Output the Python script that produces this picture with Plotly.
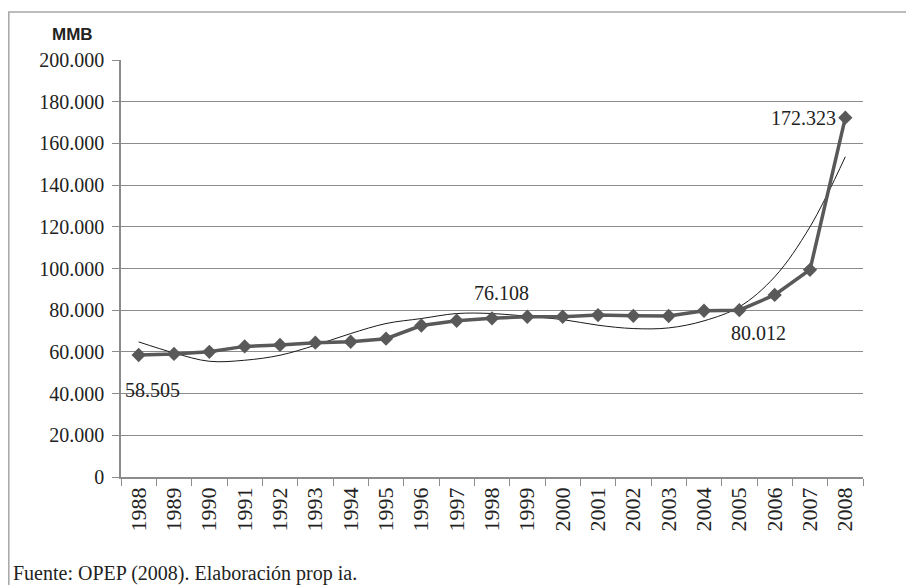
import plotly.graph_objects as go

# Reservas probadas (MMB), OPEP 2008
anios = list(range(1988, 2009))
reservas = [58505, 59040, 60054, 62649, 63330, 64447, 64878, 66328, 72667, 74931,
            76108, 76848, 76848, 77685, 77307, 77226, 79729, 80012, 87324, 99377, 172323]
# linea de tendencia
tendencia = [64.8, 59.5, 55.5, 56.0, 58.4, 63.2, 68.8, 73.6, 76.0, 78.4,
             78.4, 77.1, 75.5, 72.8, 71.2, 71.5, 74.9, 81.6, 96.0, 120.0, 153.6]
tendencia = [v * 1000 for v in tendencia]

etiquetas = {1988: 58505, 1998: 76108, 2005: 80012, 2008: 172323}

serif = "Liberation Serif, Times New Roman, serif"
gris = "#595959"

fig = go.Figure()
fig.add_trace(go.Scatter(x=anios, y=tendencia, mode="lines",
                         line=dict(color="#1a1a1a", width=1, shape="spline"), hoverinfo="skip"))
fig.add_trace(go.Scatter(x=anios, y=reservas, mode="lines+markers",
                         line=dict(color=gris, width=3.5),
                         marker=dict(symbol="diamond", size=11, color=gris)))

# posicion de cada etiqueta respecto a su punto
desplaz = {1988: (-16, -35, "left"), 1998: (9, 25, "center"),
           2005: (19, -23, "center"), 2008: (-7, 0, "right")}
for anio, val in etiquetas.items():
    dx, dy, anc = desplaz[anio]
    fig.add_annotation(x=anio, y=val, text=f"{val:,}".replace(",", "."), showarrow=False,
                       xanchor=anc, yanchor="middle", xshift=dx, yshift=dy,
                       font=dict(family=serif, size=20, color="#222"))

fig.add_annotation(x=-0.065, y=1.06, xref="paper", yref="paper", text="<b>MMB</b>",
                   showarrow=False, xanchor="center", yanchor="middle",
                   font=dict(family="Liberation Sans, Arial", size=17, color="#222"))
fig.add_annotation(x=-0.1487, y=-0.231, xref="paper", yref="paper",
                   text="Fuente: OPEP (2008). Elaboración prop ia.", showarrow=False,
                   xanchor="left", yanchor="middle",
                   font=dict(family=serif, size=20, color="#222"))

# marco exterior
fig.add_shape(type="rect", xref="paper", yref="paper", x0=-0.1512, x1=1.3, y0=-0.4, y1=1.1152,
              line=dict(color="#a6a6a6", width=1.5), layer="below")

eje = "#8c8c8c"
fig.update_layout(
    width=906, height=577, template="plotly_white", showlegend=False,
    paper_bgcolor="white", plot_bgcolor="white", separators=",.",
    margin=dict(l=113, r=51, t=52, b=108, autoexpand=False),
    xaxis=dict(range=[1987.5, 2008.5], tickvals=anios, ticktext=[str(a) for a in anios],
               showgrid=False, showline=True, linecolor=eje, linewidth=1.5,
               ticks="", automargin=False,
               minor=dict(tickvals=[a - 0.5 for a in anios] + [2008.5], ticks="outside",
                          ticklen=7, tickcolor=eje, showgrid=False),
               tickangle=-90, tickfont=dict(family=serif, size=22, color="#222"), zeroline=False),
    yaxis=dict(range=[0, 200000], dtick=20000, tickformat=",d", showgrid=True,
               gridcolor=eje, gridwidth=1, showline=True, linecolor=eje, linewidth=1.5,
               ticks="outside", ticklen=7, tickcolor=eje, zeroline=False, automargin=False,
               ticklabelstandoff=4,
               tickfont=dict(family=serif, size=20, color="#222")),
)

fig.write_html("out.html")
